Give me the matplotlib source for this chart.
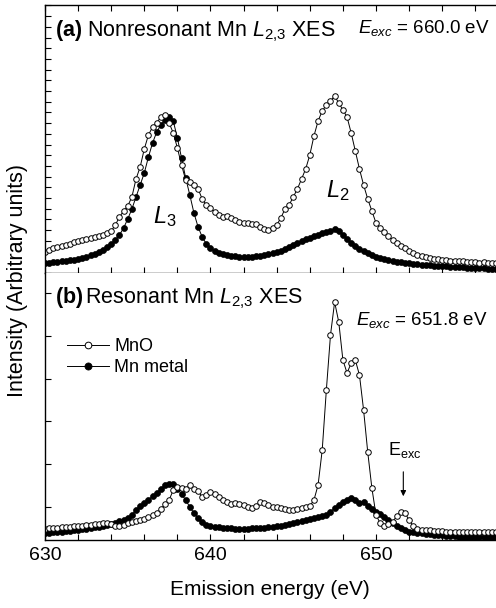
import numpy as np
import matplotlib
matplotlib.use('Agg')
import matplotlib.pyplot as plt
from matplotlib.ticker import MultipleLocator, FixedLocator

# Fonts (Arial-like)
plt.rcParams['font.family'] = 'Liberation Sans'
plt.rcParams['mathtext.fontset'] = 'custom'
plt.rcParams['mathtext.rm'] = 'Liberation Sans'
plt.rcParams['mathtext.it'] = 'Liberation Sans:italic'
plt.rcParams['mathtext.bf'] = 'Liberation Sans:bold'

# ----- Data (arbitrary units) ----- #
# Emission energy grid (eV), 0.25 eV steps
energy = np.arange(630, 657.3, 0.25)

# (a) Nonresonant, E_exc = 660.0 eV
mno_nonres = [21, 23, 25, 26, 27, 28, 29, 31, 32, 33, 34, 35, 36, 37, 38, 40,
              42, 48, 56, 62, 67, 76, 94, 106, 124, 138, 146, 150, 156, 158, 150, 140,
              125, 108, 93, 91, 88, 84, 74, 68, 65, 61, 58, 56, 57, 55, 53, 51,
              50, 50, 49, 49, 46, 44, 43, 45, 48, 55, 64, 68, 76, 84, 94, 104,
              118, 137, 152, 162, 168, 172, 177, 170, 163, 156, 140, 122, 104, 88, 74, 62,
              50, 45, 41, 37, 33, 30, 27, 25, 22, 20, 18, 17, 16, 15, 14, 14,
              13, 13, 12, 12, 12, 12, 11, 11, 11, 10, 11, 10, 10, 10]
mn_nonres = [10, 10, 11, 11, 12, 12, 13, 13, 14, 15, 16, 18, 19, 21, 23, 26,
             29, 33, 38, 45, 54, 64, 76, 88, 100, 116, 130, 141, 148, 153, 156, 152,
             135, 115, 95, 78, 60, 46, 36, 29, 25, 22, 20, 19, 18, 17, 17, 16,
             16, 16, 16, 17, 17, 18, 19, 20, 21, 22, 24, 26, 28, 30, 32, 34,
             35, 37, 38, 40, 41, 42, 44, 42, 38, 34, 30, 27, 24, 22, 20, 18,
             16, 15, 14, 13, 12, 11, 11, 10, 10, 9, 9, 8, 8, 8, 7, 7,
             7, 7, 6, 6, 6, 6, 5, 5, 5, 5, 5, 4, 4, 4]

# (b) Resonant, E_exc = 651.8 eV
mno_res = [11, 12, 12, 12, 13, 13, 13, 14, 14, 14, 15, 15, 16, 16, 17, 17,
           16, 14, 14, 15, 17, 18, 19, 20, 21, 23, 25, 27, 31, 36, 40, 50,
           53, 52, 51, 55, 51, 49, 43, 45, 48, 46, 43, 40, 38, 36, 37, 36,
           35, 33, 32, 34, 38, 37, 35, 33, 33, 32, 31, 30, 30, 31, 32, 33,
           34, 40, 55, 90, 150, 205, 238, 218, 180, 167, 177, 180, 165, 130, 88, 52,
           25, 17, 14, 16, 18, 24, 28, 27, 20, 14, 11, 10, 10, 10, 9, 9,
           9, 8, 8, 8, 8, 8, 8, 8, 8, 8, 8, 8, 8, 8]
mn_res = [7, 7, 8, 8, 8, 9, 9, 10, 10, 11, 11, 12, 13, 13, 14, 15,
          16, 17, 19, 20, 22, 25, 30, 34, 37, 40, 44, 47, 51, 55, 56, 56,
          51, 46, 40, 33, 27, 22, 18, 15, 14, 13, 13, 12, 12, 12, 11, 11,
          11, 11, 12, 12, 12, 12, 13, 13, 14, 14, 15, 16, 17, 18, 19, 20,
          21, 22, 23, 24, 25, 28, 32, 35, 38, 40, 42, 40, 37, 38, 34, 31,
          28, 26, 23, 20, 17, 14, 12, 10, 8, 8, 7, 7, 6, 6, 5, 5,
          5, 4, 4, 4, 3, 3, 3, 3, 3, 3, 3, 3, 3, 3]

# ----- Figure ----- #
fig = plt.figure(figsize=(4.96, 6.08), dpi=100)
ax1 = fig.add_axes([0.0907, 0.551, 0.9093, 0.4408])
ax2 = fig.add_axes([0.0907, 0.1118, 0.9093, 0.4391])

open_style = dict(color='k', lw=0.7, marker='o', ms=4.0, mfc='white', mec='k', mew=0.7)
fill_style = dict(color='k', lw=0.7, marker='o', ms=4.3, mfc='k', mec='k', mew=0.5)

# Top panel
ax1.plot(energy, mn_nonres, **fill_style)
ax1.plot(energy, mno_nonres, **open_style)
ax1.set_ylim(0, 268)

# Bottom panel
ax2.plot(energy, mn_res, label='Mn metal', **fill_style)
ax2.plot(energy, mno_res, label='MnO', **open_style)
ax2.set_ylim(0, 267)

for ax in (ax1, ax2):
    ax.set_xlim(630, 657.25)
    ax.spines['right'].set_visible(False)
    for s in ('left', 'top', 'bottom'):
        ax.spines[s].set_linewidth(1.0)
    ax.xaxis.set_major_locator(MultipleLocator(10))
    ax.xaxis.set_minor_locator(MultipleLocator(2))
    ax.tick_params(which='both', direction='in', length=4, width=0.8,
                   labelsize=14, pad=5, right=False, labelleft=False)

ax1.yaxis.set_major_locator(MultipleLocator(10.7))
ax1.tick_params(which='both', top=True, labelbottom=False)
ax2.yaxis.set_major_locator(FixedLocator(np.arange(33, 260, 42.8)))
ax2.tick_params(which='both', top=False)
ax2.spines['top'].set_visible(False)

# Texts
ax1.text(0.022, 0.884, r'$\mathbf{(a)}$ Nonresonant Mn $L_{2{,}3}$ XES', transform=ax1.transAxes,
         fontsize=15.5, va='baseline', ha='left')
ax1.text(0.987, 0.896, r'$E_{exc}$ = 660.0 eV', transform=ax1.transAxes,
         fontsize=13.5, va='baseline', ha='right')
ax1.text(636.5, 50, r'$L_3$', fontsize=17, va='baseline')
ax1.text(647.0, 76, r'$L_2$', fontsize=17, va='baseline')

ax2.text(0.022, 0.888, r'$\mathbf{(b)}\,$Resonant Mn $L_{2{,}3}$ XES', transform=ax2.transAxes,
         fontsize=15.5, va='baseline', ha='left')
ax2.text(0.981, 0.805, r'$E_{exc}$ = 651.8 eV', transform=ax2.transAxes,
         fontsize=13.5, va='baseline', ha='right')
ax2.annotate(r'E$_\mathrm{exc}$', xy=(651.65, 41), xytext=(650.7, 85), fontsize=13,
             va='baseline', ha='left')
ax2.annotate('', xy=(651.65, 41), xytext=(651.65, 71),
             arrowprops=dict(arrowstyle='-|>', color='k', lw=0.8, mutation_scale=8))

handles, labels = ax2.get_legend_handles_labels()
ax2.legend(handles[::-1], labels[::-1], loc='upper left', bbox_to_anchor=(0.049, 0.755),
           frameon=False, fontsize=13, handlelength=2.3, handletextpad=0.3,
           labelspacing=0.2, borderpad=0, borderaxespad=0, numpoints=1, markerscale=1.2)

fig.text(0.544, 0.03, 'Emission energy (eV)', fontsize=15, ha='center', va='center')
fig.text(0.036, 0.538, 'Intensity (Arbitrary units)', fontsize=15.5, ha='center',
         va='center', rotation=90)

fig.savefig('out.png', dpi=100)
